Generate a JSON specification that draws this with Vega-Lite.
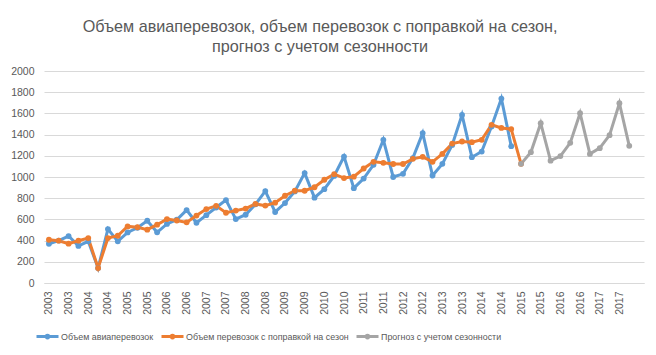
{
  "$schema": "https://vega.github.io/schema/vega-lite/v6.json",
  "width": 600,
  "height": 212,
  "autosize": {"type": "none"},
  "padding": {"left": 44, "top": 71, "right": 12, "bottom": 72},
  "background": "white",
  "title": {
    "text": ["Объем авиаперевозок, объем перевозок с поправкой на сезон,", "прогноз с учетом сезонности"],
    "font": "Liberation Sans",
    "fontSize": 16.2,
    "fontWeight": "normal",
    "color": "#595959",
    "anchor": "middle",
    "dx": -24,
    "lineHeight": 20,
    "offset": 11
  },
  "data": {
    "values": [
      {"period": "2003 Q1", "series": "Объем авиаперевозок", "value": 370},
      {"period": "2003 Q2", "series": "Объем авиаперевозок", "value": 400},
      {"period": "2003 Q3", "series": "Объем авиаперевозок", "value": 443},
      {"period": "2003 Q4", "series": "Объем авиаперевозок", "value": 350},
      {"period": "2004 Q1", "series": "Объем авиаперевозок", "value": 393},
      {"period": "2004 Q2", "series": "Объем авиаперевозок", "value": 141},
      {"period": "2004 Q3", "series": "Объем авиаперевозок", "value": 509},
      {"period": "2004 Q4", "series": "Объем авиаперевозок", "value": 393},
      {"period": "2005 Q1", "series": "Объем авиаперевозок", "value": 477},
      {"period": "2005 Q2", "series": "Объем авиаперевозок", "value": 521},
      {"period": "2005 Q3", "series": "Объем авиаперевозок", "value": 587},
      {"period": "2005 Q4", "series": "Объем авиаперевозок", "value": 478},
      {"period": "2006 Q1", "series": "Объем авиаперевозок", "value": 557},
      {"period": "2006 Q2", "series": "Объем авиаперевозок", "value": 597},
      {"period": "2006 Q3", "series": "Объем авиаперевозок", "value": 688},
      {"period": "2006 Q4", "series": "Объем авиаперевозок", "value": 568},
      {"period": "2007 Q1", "series": "Объем авиаперевозок", "value": 640},
      {"period": "2007 Q2", "series": "Объем авиаперевозок", "value": 712},
      {"period": "2007 Q3", "series": "Объем авиаперевозок", "value": 782},
      {"period": "2007 Q4", "series": "Объем авиаперевозок", "value": 603},
      {"period": "2008 Q1", "series": "Объем авиаперевозок", "value": 644},
      {"period": "2008 Q2", "series": "Объем авиаперевозок", "value": 742},
      {"period": "2008 Q3", "series": "Объем авиаперевозок", "value": 867},
      {"period": "2008 Q4", "series": "Объем авиаперевозок", "value": 670},
      {"period": "2009 Q1", "series": "Объем авиаперевозок", "value": 754},
      {"period": "2009 Q2", "series": "Объем авиаперевозок", "value": 864},
      {"period": "2009 Q3", "series": "Объем авиаперевозок", "value": 1037},
      {"period": "2009 Q4", "series": "Объем авиаперевозок", "value": 805},
      {"period": "2010 Q1", "series": "Объем авиаперевозок", "value": 885},
      {"period": "2010 Q2", "series": "Объем авиаперевозок", "value": 1010},
      {"period": "2010 Q3", "series": "Объем авиаперевозок", "value": 1193},
      {"period": "2010 Q4", "series": "Объем авиаперевозок", "value": 895},
      {"period": "2011 Q1", "series": "Объем авиаперевозок", "value": 985},
      {"period": "2011 Q2", "series": "Объем авиаперевозок", "value": 1115},
      {"period": "2011 Q3", "series": "Объем авиаперевозок", "value": 1351},
      {"period": "2011 Q4", "series": "Объем авиаперевозок", "value": 1000},
      {"period": "2012 Q1", "series": "Объем авиаперевозок", "value": 1030},
      {"period": "2012 Q2", "series": "Объем авиаперевозок", "value": 1178},
      {"period": "2012 Q3", "series": "Объем авиаперевозок", "value": 1414},
      {"period": "2012 Q4", "series": "Объем авиаперевозок", "value": 1014},
      {"period": "2013 Q1", "series": "Объем авиаперевозок", "value": 1124},
      {"period": "2013 Q2", "series": "Объем авиаперевозок", "value": 1303},
      {"period": "2013 Q3", "series": "Объем авиаперевозок", "value": 1586},
      {"period": "2013 Q4", "series": "Объем авиаперевозок", "value": 1187},
      {"period": "2014 Q1", "series": "Объем авиаперевозок", "value": 1240},
      {"period": "2014 Q2", "series": "Объем авиаперевозок", "value": 1476},
      {"period": "2014 Q3", "series": "Объем авиаперевозок", "value": 1740},
      {"period": "2014 Q4", "series": "Объем авиаперевозок", "value": 1291},
      {"period": "2003 Q1", "series": "Объем перевозок с поправкой на сезон", "value": 408},
      {"period": "2003 Q2", "series": "Объем перевозок с поправкой на сезон", "value": 399},
      {"period": "2003 Q3", "series": "Объем перевозок с поправкой на сезон", "value": 371},
      {"period": "2003 Q4", "series": "Объем перевозок с поправкой на сезон", "value": 399},
      {"period": "2004 Q1", "series": "Объем перевозок с поправкой на сезон", "value": 424},
      {"period": "2004 Q2", "series": "Объем перевозок с поправкой на сезон", "value": 141},
      {"period": "2004 Q3", "series": "Объем перевозок с поправкой на сезон", "value": 424},
      {"period": "2004 Q4", "series": "Объем перевозок с поправкой на сезон", "value": 446},
      {"period": "2005 Q1", "series": "Объем перевозок с поправкой на сезон", "value": 534},
      {"period": "2005 Q2", "series": "Объем перевозок с поправкой на сезон", "value": 526},
      {"period": "2005 Q3", "series": "Объем перевозок с поправкой на сезон", "value": 503},
      {"period": "2005 Q4", "series": "Объем перевозок с поправкой на сезон", "value": 550},
      {"period": "2006 Q1", "series": "Объем перевозок с поправкой на сезон", "value": 603},
      {"period": "2006 Q2", "series": "Объем перевозок с поправкой на сезон", "value": 590},
      {"period": "2006 Q3", "series": "Объем перевозок с поправкой на сезон", "value": 572},
      {"period": "2006 Q4", "series": "Объем перевозок с поправкой на сезон", "value": 636},
      {"period": "2007 Q1", "series": "Объем перевозок с поправкой на сезон", "value": 697},
      {"period": "2007 Q2", "series": "Объем перевозок с поправкой на сезон", "value": 728},
      {"period": "2007 Q3", "series": "Объем перевозок с поправкой на сезон", "value": 663},
      {"period": "2007 Q4", "series": "Объем перевозок с поправкой на сезон", "value": 683},
      {"period": "2008 Q1", "series": "Объем перевозок с поправкой на сезон", "value": 702},
      {"period": "2008 Q2", "series": "Объем перевозок с поправкой на сезон", "value": 746},
      {"period": "2008 Q3", "series": "Объем перевозок с поправкой на сезон", "value": 730},
      {"period": "2008 Q4", "series": "Объем перевозок с поправкой на сезон", "value": 758},
      {"period": "2009 Q1", "series": "Объем перевозок с поправкой на сезон", "value": 823},
      {"period": "2009 Q2", "series": "Объем перевозок с поправкой на сезон", "value": 870},
      {"period": "2009 Q3", "series": "Объем перевозок с поправкой на сезон", "value": 870},
      {"period": "2009 Q4", "series": "Объем перевозок с поправкой на сезон", "value": 903},
      {"period": "2010 Q1", "series": "Объем перевозок с поправкой на сезон", "value": 974},
      {"period": "2010 Q2", "series": "Объем перевозок с поправкой на сезон", "value": 1027},
      {"period": "2010 Q3", "series": "Объем перевозок с поправкой на сезон", "value": 990},
      {"period": "2010 Q4", "series": "Объем перевозок с поправкой на сезон", "value": 1003},
      {"period": "2011 Q1", "series": "Объем перевозок с поправкой на сезон", "value": 1080},
      {"period": "2011 Q2", "series": "Объем перевозок с поправкой на сезон", "value": 1143},
      {"period": "2011 Q3", "series": "Объем перевозок с поправкой на сезон", "value": 1134},
      {"period": "2011 Q4", "series": "Объем перевозок с поправкой на сезон", "value": 1123},
      {"period": "2012 Q1", "series": "Объем перевозок с поправкой на сезон", "value": 1123},
      {"period": "2012 Q2", "series": "Объем перевозок с поправкой на сезон", "value": 1171},
      {"period": "2012 Q3", "series": "Объем перевозок с поправкой на сезон", "value": 1190},
      {"period": "2012 Q4", "series": "Объем перевозок с поправкой на сезон", "value": 1143},
      {"period": "2013 Q1", "series": "Объем перевозок с поправкой на сезон", "value": 1218},
      {"period": "2013 Q2", "series": "Объем перевозок с поправкой на сезон", "value": 1315},
      {"period": "2013 Q3", "series": "Объем перевозок с поправкой на сезон", "value": 1335},
      {"period": "2013 Q4", "series": "Объем перевозок с поправкой на сезон", "value": 1329},
      {"period": "2014 Q1", "series": "Объем перевозок с поправкой на сезон", "value": 1351},
      {"period": "2014 Q2", "series": "Объем перевозок с поправкой на сезон", "value": 1492},
      {"period": "2014 Q3", "series": "Объем перевозок с поправкой на сезон", "value": 1463},
      {"period": "2014 Q4", "series": "Объем перевозок с поправкой на сезон", "value": 1452},
      {"period": "2015 Q1", "series": "Объем перевозок с поправкой на сезон", "value": 1124},
      {"period": "2015 Q1", "series": "Прогноз с учетом сезонности", "value": 1124},
      {"period": "2015 Q2", "series": "Прогноз с учетом сезонности", "value": 1234},
      {"period": "2015 Q3", "series": "Прогноз с учетом сезонности", "value": 1508},
      {"period": "2015 Q4", "series": "Прогноз с учетом сезонности", "value": 1154},
      {"period": "2016 Q1", "series": "Прогноз с учетом сезонности", "value": 1197},
      {"period": "2016 Q2", "series": "Прогноз с учетом сезонности", "value": 1322},
      {"period": "2016 Q3", "series": "Прогноз с учетом сезонности", "value": 1602},
      {"period": "2016 Q4", "series": "Прогноз с учетом сезонности", "value": 1218},
      {"period": "2017 Q1", "series": "Прогноз с учетом сезонности", "value": 1272},
      {"period": "2017 Q2", "series": "Прогноз с учетом сезонности", "value": 1395},
      {"period": "2017 Q3", "series": "Прогноз с учетом сезонности", "value": 1696},
      {"period": "2017 Q4", "series": "Прогноз с учетом сезонности", "value": 1294}
    ]
  },
  "mark": {"type": "line", "strokeWidth": 3, "point": {"filled": true, "size": 34, "opacity": 1}},
  "encoding": {
    "x": {
      "field": "period",
      "type": "ordinal",
      "sort": "ascending",
      "scale": {"type": "point", "padding": 1, "align": 0.25},
      "axis": {
        "title": null,
        "values": ["2003 Q1", "2003 Q3", "2004 Q1", "2004 Q3", "2005 Q1", "2005 Q3", "2006 Q1", "2006 Q3", "2007 Q1", "2007 Q3", "2008 Q1", "2008 Q3", "2009 Q1", "2009 Q3", "2010 Q1", "2010 Q3", "2011 Q1", "2011 Q3", "2012 Q1", "2012 Q3", "2013 Q1", "2013 Q3", "2014 Q1", "2014 Q3", "2015 Q1", "2015 Q3", "2016 Q1", "2016 Q3", "2017 Q1", "2017 Q3"],
        "labelExpr": "slice(datum.value, 0, 4)",
        "labelAngle": -90,
        "ticks": false,
        "grid": false,
        "labelPadding": 8,
        "domainColor": "#D9D9D9",
        "domainWidth": 1,
        "labelFont": "Liberation Sans",
        "labelFontSize": 10.5,
        "labelColor": "#595959",
        "labelOverlap": false
      }
    },
    "y": {
      "field": "value",
      "type": "quantitative",
      "scale": {"domain": [0, 2000], "nice": false},
      "axis": {
        "title": null,
        "values": [0, 200, 400, 600, 800, 1000, 1200, 1400, 1600, 1800, 2000],
        "format": "d",
        "domain": false,
        "ticks": false,
        "labelPadding": 10,
        "gridColor": "#D9D9D9",
        "gridWidth": 1,
        "labelFont": "Liberation Sans",
        "labelFontSize": 10.5,
        "labelColor": "#595959"
      }
    },
    "color": {
      "field": "series",
      "type": "nominal",
      "sort": ["Объем авиаперевозок", "Объем перевозок с поправкой на сезон", "Прогноз с учетом сезонности"],
      "scale": {
        "domain": ["Объем авиаперевозок", "Объем перевозок с поправкой на сезон", "Прогноз с учетом сезонности"],
        "range": ["#5B9BD5", "#ED7D31", "#A5A5A5"]
      },
      "legend": {
        "title": null,
        "orient": "none",
        "direction": "horizontal",
        "legendX": -9,
        "legendY": 253,
        "symbolType": "M-1,0H1M-0.12,0A0.12,0.12 0 1,1 0.12,0A0.12,0.12 0 1,1 -0.12,0Z",
        "symbolSize": 484,
        "symbolStrokeWidth": 3,
        "labelFont": "Liberation Sans",
        "labelFontSize": 8.9,
        "labelLimit": 400,
        "labelColor": "#595959",
        "labelOffset": 1,
        "columnPadding": 1,
        "encode": {
          "symbols": {
            "update": {
              "fill": {"scale": "color", "field": "value"},
              "stroke": {"scale": "color", "field": "value"},
              "strokeWidth": {"value": 3},
              "opacity": {"value": 1}
            }
          }
        }
      }
    }
  },
  "config": {
    "view": {"stroke": null}
  }
}
